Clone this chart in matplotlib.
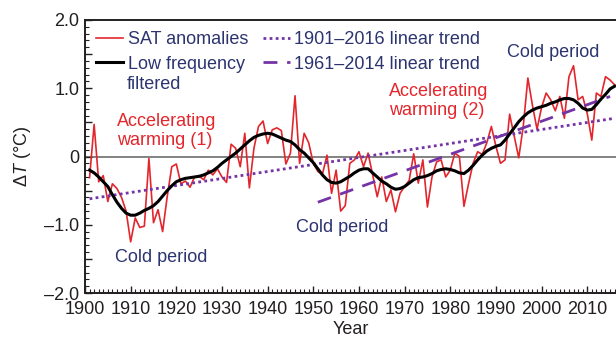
import matplotlib
matplotlib.use("Agg")
import matplotlib.pyplot as plt
from matplotlib.ticker import MultipleLocator, FuncFormatter

plt.rcParams['font.family'] = ['Liberation Sans', 'DejaVu Sans']
plt.rcParams['mathtext.fontset'] = 'custom'
plt.rcParams['mathtext.rm'] = 'Liberation Sans'
plt.rcParams['mathtext.it'] = 'Liberation Sans:italic'

# annual surface air temperature anomalies, 1901-2016
years = list(range(1901, 2017))
sat = [
    -0.31, 0.47, -0.37, -0.28, -0.66, -0.40, -0.47, -0.60, -0.80, -1.25,
    -0.90, -1.04, -1.02, -0.03, -0.97, -0.78, -1.10, -0.59, -0.15, -0.11,
    -0.40, -0.36, -0.45, -0.30, -0.29, -0.34, -0.20, -0.27, -0.18, -0.30,
    -0.38, 0.18, 0.12, -0.15, 0.34, -0.46, 0.12, 0.44, 0.52, 0.19,
    0.39, 0.42, 0.38, -0.11, 0.05, 0.89, -0.10, 0.34, 0.20, -0.10,
    -0.22, -0.26, 0.02, -0.54, -0.20, -0.80, -0.72, -0.10, -0.05, 0.07,
    -0.15, 0.05, -0.27, -0.59, -0.30, -0.66, -0.49, -0.81, -0.54, -0.44,
    -0.35, 0.04, -0.39, -0.05, -0.74, -0.30, -0.08, -0.05, -0.30, -0.20,
    0.05, 0.00, -0.73, -0.40, -0.10, 0.07, 0.03, 0.20, 0.44, 0.15,
    -0.10, -0.05, 0.62, 0.30, -0.02, 0.45, 1.15, 0.75, 0.40, 0.72,
    0.93, 0.83, 0.67, 0.88, 0.56, 1.17, 1.33, 0.83, 0.88, 0.63,
    0.24, 0.93, 0.88, 1.17, 1.12, 1.05,
]
# low frequency filtered curve
lowfreq = [
    -0.20, -0.24, -0.30, -0.37, -0.44, -0.56, -0.67, -0.76, -0.83, -0.86,
    -0.86, -0.83, -0.79, -0.76, -0.72, -0.66, -0.58, -0.50, -0.43, -0.37,
    -0.34, -0.32, -0.31, -0.30, -0.29, -0.27, -0.24, -0.21, -0.16, -0.10,
    -0.05, 0.00, 0.05, 0.11, 0.17, 0.23, 0.28, 0.31, 0.33, 0.34,
    0.33, 0.30, 0.27, 0.24, 0.22, 0.17, 0.10, 0.05, -0.02, -0.09,
    -0.18, -0.27, -0.34, -0.38, -0.39, -0.37, -0.33, -0.29, -0.24, -0.20,
    -0.18, -0.18, -0.24, -0.30, -0.36, -0.40, -0.45, -0.48, -0.47, -0.44,
    -0.39, -0.34, -0.31, -0.30, -0.28, -0.25, -0.21, -0.19, -0.18, -0.19,
    -0.21, -0.24, -0.25, -0.20, -0.13, -0.05, 0.02, 0.08, 0.12, 0.15,
    0.17, 0.24, 0.33, 0.42, 0.51, 0.58, 0.64, 0.68, 0.71, 0.73,
    0.75, 0.78, 0.80, 0.83, 0.85, 0.85, 0.83, 0.78, 0.71, 0.68,
    0.69, 0.76, 0.84, 0.91, 0.99, 1.03,
]
# linear trends (end points)
trend_long_years = [1901, 2016]
trend_long = [-0.62, 0.56]
trend_short_years = [1951, 2015]
trend_short = [-0.67, 0.88]

red = '#e3262c'
purple = '#7434a6'
navy = '#2c3470'
dark = '#231f20'

fig = plt.figure(figsize=(6.16, 3.40), dpi=100)
ax = fig.add_axes([85 / 616, 47 / 340, 531 / 616, 273 / 340])

ax.axhline(0, color='#606060', lw=1.1, zorder=1)
l_sat, = ax.plot(years, sat, color=red, lw=1.2, zorder=2, label='SAT anomalies')
l_lt, = ax.plot(trend_long_years, trend_long, color=purple, lw=2.0,
                linestyle=(0, (1, 1.2)), zorder=3, label='1901\u20132016 linear trend')
l_st, = ax.plot(trend_short_years, trend_short, color=purple, lw=2.0,
                linestyle=(0, (5, 3.5)), zorder=3, label='1961\u20132014 linear trend')
l_lf, = ax.plot(years, lowfreq, color='black', lw=2.2, zorder=4, label='Low frequency')

ax.set_xlim(1900, 2016.3)
ax.set_ylim(-2.0, 2.0)

ax.xaxis.set_major_locator(MultipleLocator(10))
ax.xaxis.set_minor_locator(MultipleLocator(1))
ax.yaxis.set_major_locator(MultipleLocator(0.5))
ax.yaxis.set_minor_locator(MultipleLocator(0.1))


def ylab(v, pos):
    if abs(v - round(v)) > 1e-6:
        return ''
    if abs(v) < 1e-6:
        return '0'
    s = '%.1f' % abs(v)
    return ('\u2013' + s) if v < 0 else s


ax.yaxis.set_major_formatter(FuncFormatter(ylab))
ax.tick_params(which='both', direction='in', colors=dark, labelsize=13,
               top=False, right=False)
ax.tick_params(which='major', length=5, width=1)
ax.tick_params(which='minor', length=3, width=0.8)
ax.tick_params(axis='x', pad=6)
ax.tick_params(axis='y', pad=4)

for side in ['left', 'bottom', 'top']:
    ax.spines[side].set_color(dark)
    ax.spines[side].set_linewidth(1.4)
ax.spines['right'].set_visible(False)

ax.set_xlabel('Year', fontsize=13, color=dark, labelpad=2)
ax.set_ylabel('\u0394$\\mathit{T}$ (\u00b0C)', fontsize=13, color=dark, labelpad=8)

leg = ax.legend(handles=[l_sat, l_lf, l_lt, l_st], ncol=2, frameon=False,
                loc='upper left', bbox_to_anchor=(0.021, 0.958),
                fontsize=13, handlelength=1.5, handletextpad=0.25,
                columnspacing=0.8, labelspacing=0.4, borderpad=0, borderaxespad=0)
for t in leg.get_texts():
    t.set_color(navy)
ax.text(1909.1, 1.06, 'filtered', fontsize=13, color=navy, va='center', ha='left')

# period annotations
ax.text(1907, 0.38, 'Accelerating\nwarming (1)', color=red, fontsize=13,
        va='center', ha='left', linespacing=1.15)
ax.text(1906.5, -1.48, 'Cold period', color=navy, fontsize=13, va='center', ha='left')
ax.text(1946.3, -1.04, 'Cold period', color=navy, fontsize=13, va='center', ha='left')
ax.text(1966.6, 0.82, 'Accelerating\nwarming (2)', color=red, fontsize=13,
        va='center', ha='left', linespacing=1.15)
ax.text(1992.5, 1.52, 'Cold period', color=navy, fontsize=13, va='center', ha='left')

fig.savefig('out.png', dpi=100)
